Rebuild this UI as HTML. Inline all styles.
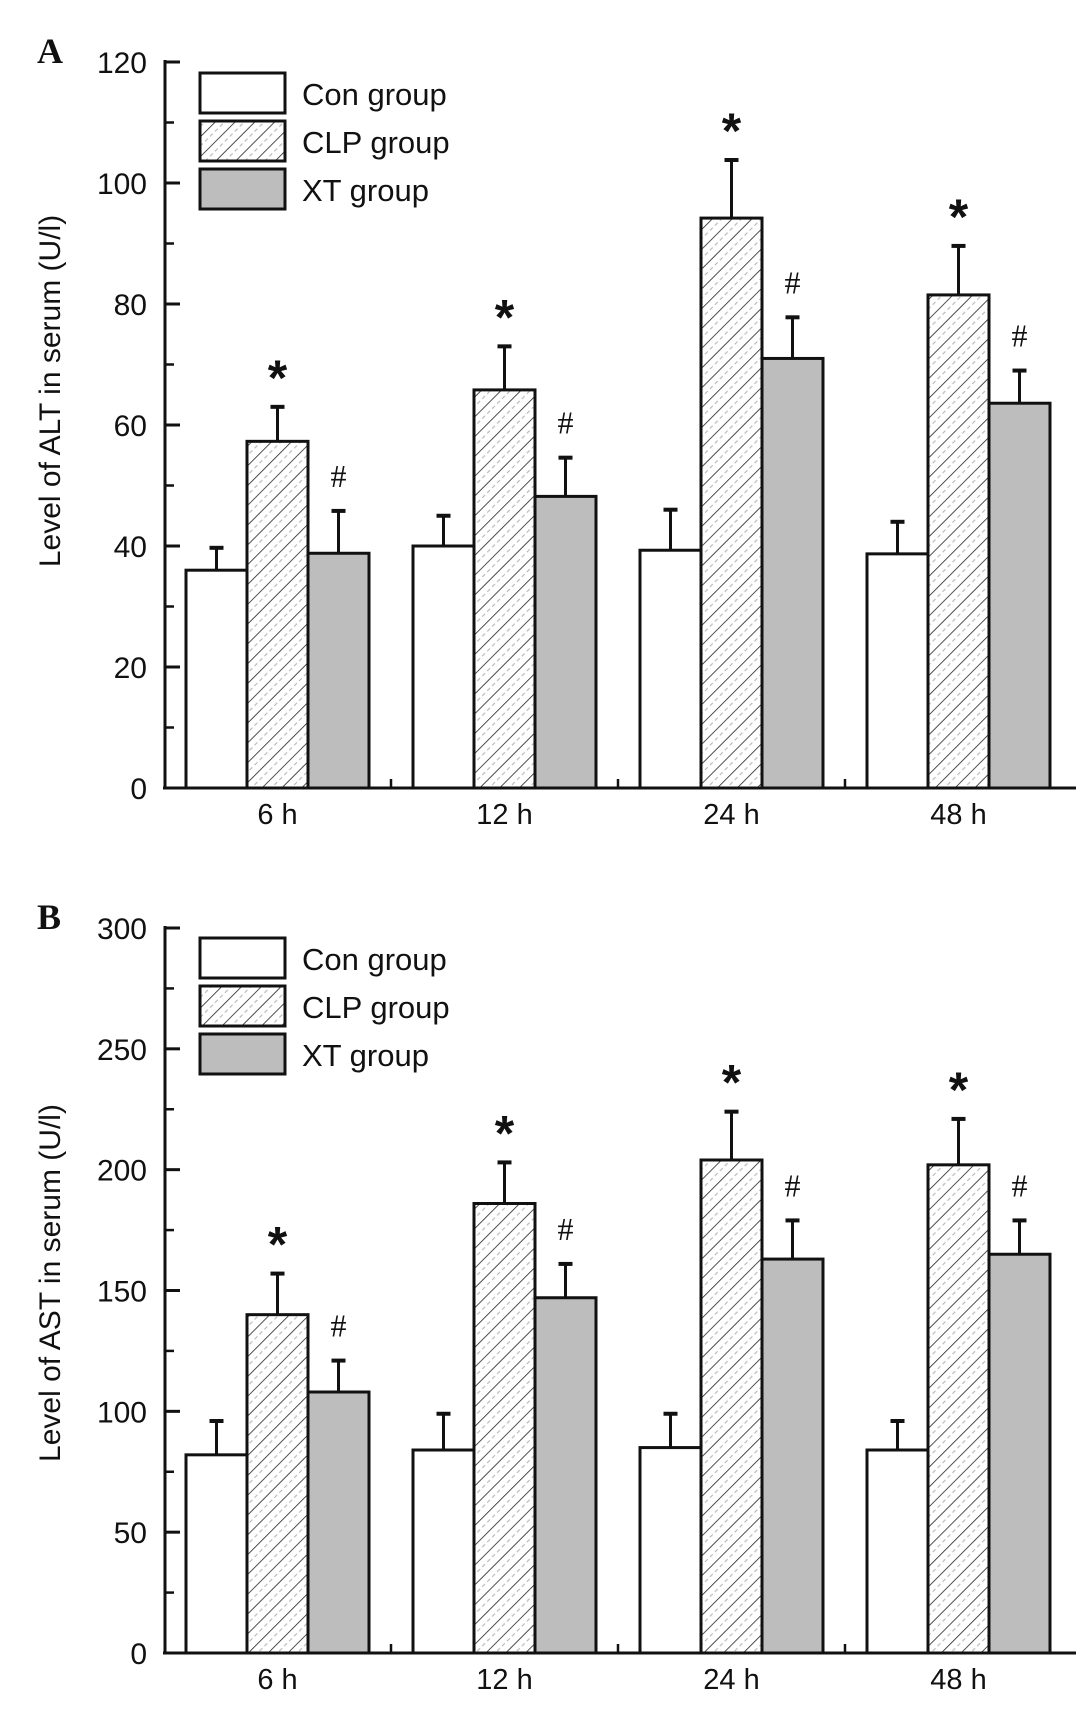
<!DOCTYPE html>
<html><head><meta charset="utf-8"><style>
html,body{margin:0;padding:0;background:#fff;}
svg{display:block;font-family:"Liberation Sans",Arial,sans-serif;}
</style></head><body>
<svg id="fig" width="1087" height="1709" viewBox="0 0 1087 1709">
<defs>
<pattern id="hatch" patternUnits="userSpaceOnUse" width="14" height="14" patternTransform="rotate(45)">
<rect width="14" height="14" fill="#fff"/>
<line x1="0" y1="0" x2="0" y2="14" stroke="#222" stroke-width="1.6"/>
<line x1="7" y1="0" x2="7" y2="14" stroke="#bbb" stroke-width="1.2" stroke-dasharray="4,3"/>
</pattern>
</defs>
</svg>
<script>
const categories = ["6 h","12 h","24 h","48 h"];
const seriesNames = ["Con group","CLP group","XT group"];
// Panel A (ALT)
const altCon = [36.0, 40.0, 39.3, 38.7];
const altConErr = [39.7, 45.0, 46.0, 44.0];
const altClp = [57.3, 65.8, 94.2, 81.5];
const altClpErr = [63.0, 73.0, 103.8, 89.6];
const altXt = [38.8, 48.2, 71.0, 63.6];
const altXtErr = [45.8, 54.6, 77.8, 69.0];
const altTicks = [0,20,40,60,80,100,120];
// Panel B (AST)
const astCon = [82, 84, 85, 84];
const astConErr = [96, 99, 99, 96];
const astClp = [140, 186, 204, 202];
const astClpErr = [157, 203, 224, 221];
const astXt = [108, 147, 163, 165];
const astXtErr = [121, 161, 179, 179];
const astTicks = [0,50,100,150,200,250,300];

const NS="http://www.w3.org/2000/svg";
const svg=document.getElementById('fig');
function el(tag,attrs,parent){const e=document.createElementNS(NS,tag);for(const k in attrs)e.setAttribute(k,attrs[k]);(parent||svg).appendChild(e);return e;}

function panel(cfg){
  const g=el('g',{});
  
  
  const axX=165, x0=165, xEnd=1076;
  const yScale=v=>cfg.y0-(v/cfg.max)*(cfg.y0-cfg.yTop);
  const gx=i=>186+227*i;
  const bw=61;
  const L=el('text',{x:37,y:cfg.yTop+1,'font-family':'Liberation Serif, serif','font-weight':'bold','font-size':36,fill:'#111'},g);
  L.textContent=cfg.letter;
  
  
  const yt=el('text',{x:0,y:0,'font-size':30,fill:'#111','text-anchor':'middle',transform:`translate(60,${cfg.titleY}) rotate(-90)`},g);
  yt.textContent=cfg.title;
  
  
  const sets=[[cfg.con,cfg.conErr,'#fff'],[cfg.clp,cfg.clpErr,'url(#hatch)'],[cfg.xt,cfg.xtErr,'#bdbdbd']];
  categories.forEach((c,i)=>{
    sets.forEach((s,j)=>{
      const x=gx(i)+j*bw, y=yScale(s[0][i]), ye=yScale(s[1][i]);
      const cx=x+bw/2;
      const eb=el('line',{x1:cx,x2:cx,y1:ye,y2:y,stroke:'#111','stroke-width':3},g);
      
      
      const cap=el('line',{x1:cx-7,x2:cx+7,y1:ye,y2:ye,stroke:'#111','stroke-width':4},g);
      
      
      const r=el('rect',{x:x,y:y,width:bw,height:cfg.y0-y,fill:s[2],stroke:'#111','stroke-width':3},g);
      
      
      if(j>0){
        const m=el('text',{x:cx,y:j===1?ye-12:ye-24,'text-anchor':'middle','font-size':j===1?50:32,'font-weight':j===1?'bold':'normal','font-family':j===1?'Liberation Sans, sans-serif':'Liberation Serif, serif',fill:'#111'},g);
        m.textContent=j===1?'*':'#';
        
        
      }
    });
    const xl=el('text',{x:gx(i)+bw*1.5,y:cfg.y0+36,'text-anchor':'middle','font-size':29,fill:'#111'},g);
    xl.textContent=c;
    
    
    if(i<3){
      const st=el('line',{x1:gx(i)+205,x2:gx(i)+205,y1:cfg.y0,y2:cfg.y0-9,stroke:'#111','stroke-width':2.5},g);
      
      
    }
  });
  const ya=el('line',{x1:axX,x2:axX,y1:cfg.yTop-2,y2:cfg.y0,stroke:'#111','stroke-width':3},g);
  
  
  const xa=el('line',{x1:x0-2,x2:xEnd,y1:cfg.y0,y2:cfg.y0,stroke:'#111','stroke-width':3},g);
  
  
  cfg.ticks.forEach((t,k)=>{
    const y=yScale(t);
    const tk=el('line',{x1:axX,x2:axX+15,y1:y,y2:y,stroke:'#111','stroke-width':3},g);
    
    
    if(k<cfg.ticks.length-1){
      const ym=yScale((t+cfg.ticks[k+1])/2);
      const mt=el('line',{x1:axX,x2:axX+9,y1:ym,y2:ym,stroke:'#111','stroke-width':2.5},g);
      
      
    }
    const tl=el('text',{x:axX-18,y:y+11,'text-anchor':'end','font-size':30,fill:'#111'},g);
    tl.textContent=t;
    
    
  });
  const fills=['#fff','url(#hatch)','#bdbdbd'];
  seriesNames.forEach((n,j)=>{
    const ly=cfg.legY[j];
    const lr=el('rect',{x:200,y:ly,width:85,height:40,fill:fills[j],stroke:'#111','stroke-width':3},g);
    
    
    const lt=el('text',{x:302,y:ly+32,'font-size':31,fill:'#111'},g);
    lt.textContent=n;
    
    
  });
}
panel({name:'chart-alt',letter:'A',title:'Level of ALT in serum (U/l)',titleY:391,yTop:62,y0:788,max:120,ticks:altTicks,
  con:altCon,conErr:altConErr,clp:altClp,clpErr:altClpErr,xt:altXt,xtErr:altXtErr,legY:[73,121,169]});
panel({name:'chart-ast',letter:'B',title:'Level  of AST in serum (U/l)',titleY:1283,yTop:928,y0:1653,max:300,ticks:astTicks,
  con:astCon,conErr:astConErr,clp:astClp,clpErr:astClpErr,xt:astXt,xtErr:astXtErr,legY:[938,986,1034]});
</script>
</body></html>
